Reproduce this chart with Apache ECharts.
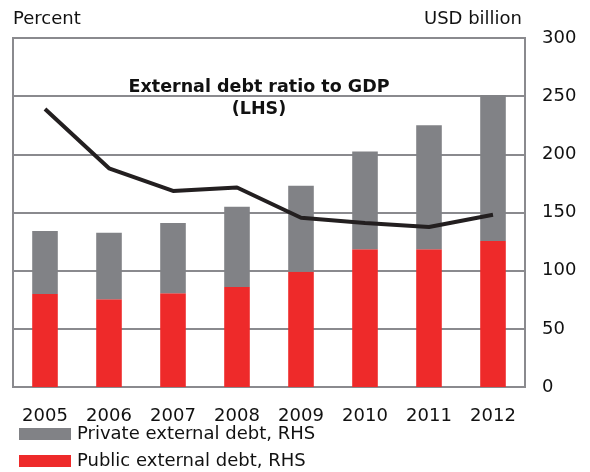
<!DOCTYPE html>
<html>
<head>
<meta charset="utf-8">
<script src="https://cdn.jsdelivr.net/npm/echarts@6/dist/echarts.min.js"></script>
<style>
html,body{margin:0;padding:0;background:#fff;}
#chart{width:590px;height:472px;}
</style>
</head>
<body>
<div id="chart"></div>
<script>
const years = ['2005','2006','2007','2008','2009','2010','2011','2012'];
const publicDebt = [80, 75.5, 80.5, 86, 99, 118.5, 118.5, 125.5];
const totalDebt = [134, 132.5, 141, 155, 173, 202.5, 225, 251];
const privateDebt = totalDebt.map((t, i) => +(t - publicDebt[i]).toFixed(1));
const debtRatio = [239, 188, 168.5, 171.5, 145.5, 141, 137.5, 148];
const rightTicks = [0, 50, 100, 150, 200, 250, 300];

const FONT = '"DejaVu Sans", sans-serif';
const chart = echarts.init(document.getElementById('chart'));
chart.setOption({
  animation: false,
  backgroundColor: '#fff',
  textStyle: { fontFamily: FONT },
  title: {
    text: 'External debt ratio to GDP\n(LHS)',
    left: 259, top: 76, textAlign: 'center', padding: 0,
    textStyle: { fontFamily: FONT, fontSize: 17.5, fontWeight: 'bold', color: '#111', lineHeight: 22 }
  },
  grid: { left: 13, right: 65, top: 38, bottom: 85, show: true, borderColor: '#8a8a8e', borderWidth: 2, containLabel: false },
  legend: {
    orient: 'vertical', left: 19, bottom: 2, padding: 0,
    itemWidth: 52, itemHeight: 12, itemGap: 9,
    icon: 'rect',
    textStyle: { fontFamily: FONT, fontSize: 18, color: '#111', padding: [0, 0, 0, 1] },
    data: ['Private external debt, RHS', 'Public external debt, RHS']
  },
  graphic: [
    { type: 'text', left: 13, top: 10, style: { text: 'Percent', font: '18px ' + FONT, fill: '#111' } },
    { type: 'text', right: 68, top: 10, style: { text: 'USD billion', font: '18px ' + FONT, fill: '#111' } }
  ],
  xAxis: {
    type: 'category', data: years,
    axisLine: { show: false }, axisTick: { show: false },
    axisLabel: { margin: 20, fontSize: 18, color: '#111', fontFamily: FONT }
  },
  yAxis: [
    { type: 'value', position: 'left', min: 0, max: 300, interval: 50, show: false, splitLine: { show: false } },
    {
      type: 'value', position: 'right', min: 0, max: 300, interval: 50,
      axisLine: { show: false }, axisTick: { show: false },
      axisLabel: { margin: 17, fontSize: 18, color: '#111', fontFamily: FONT, padding: [0, 0, 5, 0],
        formatter: v => rightTicks.includes(v) ? String(v) : '' },
      splitLine: { show: true, lineStyle: { color: '#8a8a8e', width: 2 } }
    }
  ],
  series: [
    { name: 'Public external debt, RHS', type: 'bar', stack: 'd', yAxisIndex: 1, data: publicDebt,
      barWidth: '40%', itemStyle: { color: '#ee2a2a' } },
    { name: 'Private external debt, RHS', type: 'bar', stack: 'd', yAxisIndex: 1, data: privateDebt,
      barWidth: '40%', itemStyle: { color: '#818286' } },
    { name: 'External debt ratio to GDP (LHS)', type: 'line', yAxisIndex: 0, data: debtRatio,
      symbol: 'none', lineStyle: { color: '#231f20', width: 4 }, z: 5 }
  ]
});
</script>
</body>
</html>
